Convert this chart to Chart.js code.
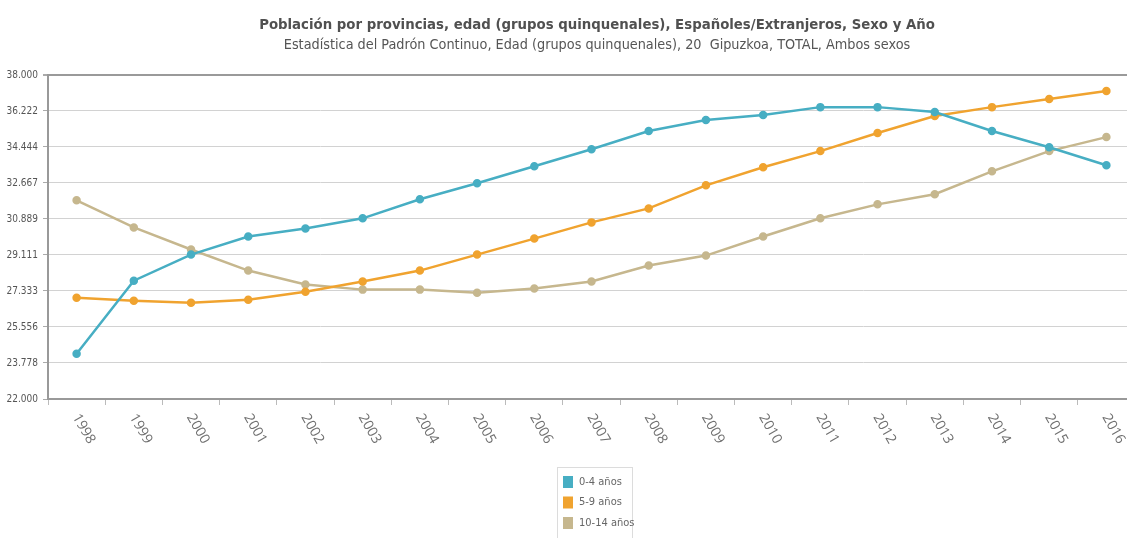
<!DOCTYPE html>
<html>
<head>
<meta charset="utf-8">
<script src="https://cdn.jsdelivr.net/npm/chart.js@4/dist/chart.umd.min.js"></script>
<style>
  html, body { margin: 0; padding: 0; background: #fff; overflow: hidden; }
</style>
</head>
<body>
<canvas id="myChart" width="1194" height="538"></canvas>
<script>
// data
const years = ['1998','1999','2000','2001','2002','2003','2004','2005','2006','2007',
               '2008','2009','2010','2011','2012','2013','2014','2015','2016'];
const edad0_4 = [24230, 27840, 29130, 30020, 30420, 30920, 31860, 32650, 33490, 34330,
                 35230, 35770, 36020, 36410, 36410, 36170, 35230, 34430, 33540];
const edad5_9 = [27000, 26850, 26750, 26900, 27300, 27800, 28340, 29130, 29920, 30720,
                 31410, 32550, 33440, 34240, 35130, 35970, 36410, 36810, 37210];
const edad10_14 = [31810, 30470, 29380, 28340, 27650, 27400, 27400, 27250, 27450, 27800,
                   28590, 29080, 30020, 30920, 31610, 32110, 33240, 34240, 34930];
const seriesNames = ['0-4 años', '5-9 años', '10-14 años'];
const seriesColors = ['#47aec3', '#f0a32f', '#c6b78e'];
const yTickLabels = ['22.000','23.778','25.556','27.333','29.111','30.889','32.667','34.444','36.222','38.000'];

const narrow = '"Liberation Sans Narrow", "DejaVu Sans Condensed", Arial, sans-serif';

// centre title + subtitle on the whole canvas, not on the padded area
const centreTitles = {
  id: 'centreTitles',
  afterLayout(chart) {
    chart.boxes.forEach(b => {
      if (b.options && b.options.text !== undefined && b.position === 'top') {
        b.left = 0;
        b.right = chart.width;
      }
    });
  }
};

// rotated year labels (clockwise, reading downwards)
const xLabels = {
  id: 'xLabels',
  afterDraw(chart) {
    const x = chart.scales.x, ctx = chart.ctx;
    ctx.save();
    ctx.font = '14px "Open Sans", sans-serif';
    ctx.fillStyle = '#707070';
    ctx.textAlign = 'left';
    ctx.textBaseline = 'middle';
    for (let i = 0; i < years.length; i++) {
      ctx.save();
      ctx.translate(x.getPixelForTick(i) - 1, x.top + 16);
      ctx.rotate(60 * Math.PI / 180);
      ctx.fillText(years[i], 0, 0);
      ctx.restore();
    }
    ctx.restore();
  }
};

// boxed vertical legend under the chart
const boxLegend = {
  id: 'boxLegend',
  afterDraw(chart) {
    const ctx = chart.ctx;
    const left = chart.width / 2 - 40, top = 467;
    ctx.save();
    ctx.strokeStyle = '#dcdcdc';
    ctx.lineWidth = 1;
    ctx.strokeRect(left + 0.5, top + 0.5, 75, 80);
    ctx.font = '11px ' + narrow;
    ctx.textBaseline = 'middle';
    chart.data.datasets.forEach((ds, i) => {
      const cy = top + 15 + i * 20.5;
      ctx.fillStyle = ds.borderColor;
      ctx.fillRect(left + 6, cy - 6, 10, 12);
      ctx.fillStyle = '#666';
      ctx.fillText(ds.label, left + 22, cy);
    });
    ctx.restore();
  }
};

const datasets = [edad0_4, edad5_9, edad10_14].map((d, i) => ({
  label: seriesNames[i],
  data: d,
  borderColor: seriesColors[i],
  backgroundColor: seriesColors[i],
  borderWidth: 2.5,
  pointRadius: 3,
  pointHoverRadius: 4,
  tension: 0
}));

const ctx = document.getElementById('myChart');
new Chart(ctx, {
  type: 'line',
  data: { labels: years, datasets: datasets },
  plugins: [centreTitles, xLabels, boxLegend],
  options: {
    responsive: false,
    animation: false,
    layout: { padding: { left: 0, right: 59, top: 0, bottom: 0 } },
    plugins: {
      legend: { display: false },
      tooltip: { enabled: false },
      title: {
        display: true,
        text: 'Población por provincias, edad (grupos quinquenales), Españoles/Extranjeros, Sexo y Año',
        color: '#505050',
        font: { family: narrow, size: 14.8, weight: 'bold' },
        padding: { top: 16, bottom: 3 }
      },
      subtitle: {
        display: true,
        text: 'Estadística del Padrón Continuo, Edad (grupos quinquenales), 20  Gipuzkoa, TOTAL, Ambos sexos',
        color: '#555',
        font: { family: narrow, size: 14.3 },
        padding: { top: 0, bottom: 21 }
      }
    },
    scales: {
      x: {
        offset: true,
        grid: { drawOnChartArea: false, drawTicks: true, tickLength: 6, color: '#bbb', offset: true },
        border: { color: '#999', width: 2 },
        ticks: { display: false },
        afterFit(scale) { scale.height = 139; }
      },
      y: {
        min: 22000,
        max: 38000,
        afterBuildTicks(scale) {
          scale.ticks = yTickLabels.map(l => ({ value: Number(l.replace('.', '')) }));
        },
        afterFit(scale) { scale.width = 48; },
        ticks: {
          callback: (v, i) => yTickLabels[i],
          color: '#555',
          font: { family: narrow, size: 10 },
          padding: 5
        },
        grid: {
          color: c => c.index === yTickLabels.length - 1 ? '#9a9a9a' : '#d2d2d2',
          lineWidth: c => c.index === yTickLabels.length - 1 ? 2 : 1,
          tickLength: 5,
          tickColor: '#aaa'
        },
        border: { color: '#999', width: 2 }
      }
    }
  }
});
</script>
</body>
</html>
